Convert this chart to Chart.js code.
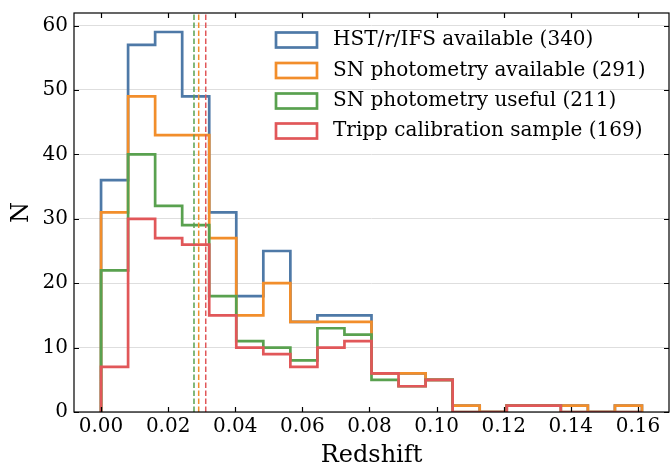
<!DOCTYPE html>
<html>
<head>
<meta charset="utf-8">
<script src="https://cdn.jsdelivr.net/npm/chart.js@4.4.1/dist/chart.umd.min.js"></script>
<style>
  html, body { margin: 0; padding: 0; background: #fff; }
  #chart { display: block; }
</style>
</head>
<body>
<canvas id="chart" width="670" height="464"></canvas>
<script>
// bin edges (20 bins) in redshift
const binEdges = [0, 0.00806, 0.01612, 0.02418, 0.03224, 0.0403, 0.04836, 0.05642, 0.06448, 0.07254,
    0.0806, 0.08866, 0.09672, 0.10478, 0.11284, 0.1209, 0.12896, 0.13702, 0.14508, 0.15314, 0.1612];

// counts per bin
const hstCounts    = [36, 57, 59, 49, 31, 18, 25, 14, 15, 15, 6, 6, 5, 1, 0, 1, 1, 1, 0, 1];
const snAvailCounts = [31, 49, 43, 43, 27, 15, 20, 14, 14, 14, 6, 6, 5, 1, 0, 1, 1, 1, 0, 1];
const snUsefulCounts = [22, 40, 32, 29, 18, 11, 10, 8, 13, 12, 5, 4, 5, 0, 0, 1, 1, 0, 0, 0];
const trippCounts  = [7, 30, 27, 26, 15, 10, 9, 7, 10, 11, 6, 4, 5, 0, 0, 1, 1, 0, 0, 0];

// medians (dashed lines)
const medianSnAvail = 0.0291;
const medianSnUseful = 0.0277;
const medianTripp = 0.0312;

const seriesLabels = [
    ['HST/', 'r', '/IFS available (340)'],
    ['SN photometry available (291)'],
    ['SN photometry useful (211)'],
    ['Tripp calibration sample (169)']
];
const seriesColors = ['#4e79a7', '#f28e2b', '#59a14f', '#e15759'];

const xTicks = [0, 0.02, 0.04, 0.06, 0.08, 0.10, 0.12, 0.14, 0.16];
const yTicks = [0, 10, 20, 30, 40, 50, 60];

const FONT = "'DejaVu Serif', serif";

// outline of a step histogram
const stepPoints = (counts) => {
    const pts = [{ x: binEdges[0], y: 0 }];
    counts.forEach((c, i) => pts.push({ x: binEdges[i], y: c }));
    const last = binEdges[binEdges.length - 1];
    pts.push({ x: last, y: counts[counts.length - 1] });
    pts.push({ x: last, y: 0 });
    return pts;
};

const histSet = (counts, color, order) => ({
    data: stepPoints(counts),
    borderColor: color,
    borderWidth: 2.7,
    stepped: 'before',
    pointRadius: 0,
    fill: false,
    borderJoinStyle: 'miter',
    order: order
});

const medianSet = (m, color) => ({
    data: [{ x: m, y: 0 }, { x: m, y: 62 }],
    borderColor: color,
    borderWidth: 1.5,
    borderDash: [5.5, 2.5],
    pointRadius: 0,
    fill: false,
    order: 0
});

// frame, inward ticks and the legend
const frameAndLegend = {
    id: 'frameAndLegend',
    afterDatasetsDraw(chart) {
        const { ctx, chartArea: a, scales } = chart;
        ctx.save();
        ctx.strokeStyle = '#000';
        ctx.lineWidth = 1.2;
        ctx.strokeRect(a.left, a.top, a.right - a.left, a.bottom - a.top);

        ctx.beginPath();
        xTicks.forEach((v) => {
            const px = Math.round(scales.x.getPixelForValue(v)) + 0.5;
            ctx.moveTo(px, a.bottom); ctx.lineTo(px, a.bottom - 5);
            ctx.moveTo(px, a.top); ctx.lineTo(px, a.top + 5);
        });
        yTicks.forEach((v) => {
            const py = Math.round(scales.y.getPixelForValue(v)) + 0.5;
            ctx.moveTo(a.left, py); ctx.lineTo(a.left + 5, py);
            ctx.moveTo(a.right, py); ctx.lineTo(a.right - 5, py);
        });
        ctx.stroke();

        // legend
        const boxX = 276, boxW = 41, boxH = 15, textX = 333;
        const rowY = [40, 70.5, 101, 131];
        ctx.textBaseline = 'middle';
        seriesLabels.forEach((parts, i) => {
            ctx.strokeStyle = seriesColors[i];
            ctx.lineWidth = 2.7;
            ctx.strokeRect(boxX, rowY[i] - boxH / 2, boxW, boxH);
            ctx.fillStyle = '#000';
            let x = textX;
            parts.forEach((p, j) => {
                ctx.font = (parts.length > 1 && j === 1 ? 'italic ' : '') + '20px ' + FONT;
                ctx.fillText(p, x, rowY[i]);
                x += ctx.measureText(p).width;
            });
        });
        ctx.restore();
    }
};

new Chart(document.getElementById('chart'), {
    type: 'line',
    data: {
        datasets: [
            histSet(hstCounts, seriesColors[0], 4),
            histSet(snAvailCounts, seriesColors[1], 3),
            histSet(snUsefulCounts, seriesColors[2], 2),
            histSet(trippCounts, seriesColors[3], 1),
            medianSet(medianSnUseful, seriesColors[2]),
            medianSet(medianSnAvail, seriesColors[1]),
            medianSet(medianTripp, seriesColors[3])
        ]
    },
    options: {
        responsive: false,
        animation: false,
        devicePixelRatio: 1,
        layout: { padding: { top: 13, right: 1, left: 0, bottom: 0 } },
        plugins: { legend: { display: false }, tooltip: { enabled: false } },
        scales: {
            x: {
                type: 'linear',
                min: -0.00806,
                max: 0.16926,
                afterFit: (s) => { s.height = 52; s.paddingLeft = 0; s.paddingRight = 0; },
                afterBuildTicks: (s) => { s.ticks = xTicks.map((v) => ({ value: v })); },
                grid: { display: false, drawTicks: false },
                border: { display: false },
                ticks: {
                    color: '#000',
                    padding: 3,
                    maxRotation: 0,
                    font: { family: FONT, size: 20 },
                    callback: (v) => v.toFixed(2)
                },
                title: {
                    display: true,
                    text: 'Redshift',
                    color: '#000',
                    font: { family: FONT, size: 24, lineHeight: 1 },
                    padding: { top: 0, bottom: -4 }
                }
            },
            y: {
                min: 0,
                max: 61.95,
                afterFit: (s) => { s.width = 74; s.paddingTop = 0; s.paddingBottom = 0; },
                afterBuildTicks: (s) => { s.ticks = yTicks.map((v) => ({ value: v })); },
                grid: { color: '#dedede', lineWidth: 1, drawTicks: false },
                border: { display: false },
                ticks: {
                    color: '#000',
                    padding: 6,
                    font: { family: FONT, size: 20 },
                    callback: (v) => String(v)
                },
                title: {
                    display: true,
                    text: 'N',
                    color: '#000',
                    font: { family: FONT, size: 24, lineHeight: 1 },
                    padding: { top: 10, bottom: 0 }
                }
            }
        }
    },
    plugins: [frameAndLegend]
});
</script>
</body>
</html>
